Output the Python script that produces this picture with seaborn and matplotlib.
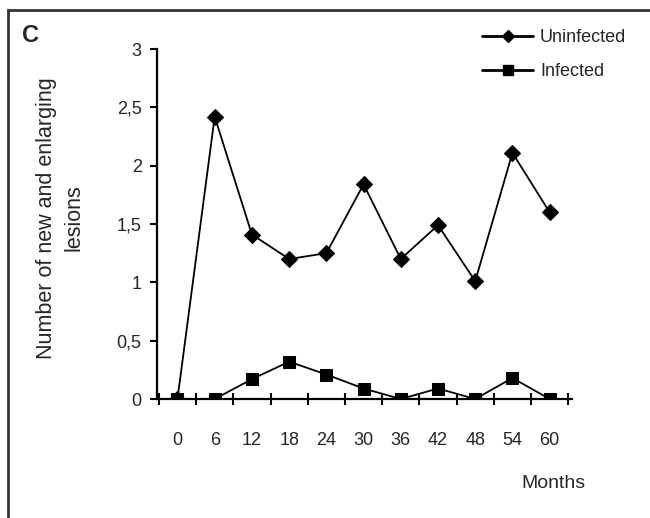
import matplotlib
matplotlib.use("Agg")
import matplotlib.pyplot as plt
import seaborn as sns
import pandas as pd
from matplotlib.patches import Rectangle
from matplotlib.lines import Line2D

months = ["0", "6", "12", "18", "24", "30", "36", "42", "48", "54", "60"]
uninfected = [0, 2.42, 1.41, 1.20, 1.25, 1.84, 1.20, 1.49, 1.01, 2.11, 1.60]
infected = [0, 0, 0.17, 0.32, 0.21, 0.09, 0, 0.09, 0, 0.18, 0]
ytick_vals = [0, 0.5, 1, 1.5, 2, 2.5, 3]
ytick_labels = ["0", "0,5", "1", "1,5", "2", "2,5", "3"]

sns.set_style("white")
plt.rcParams["font.family"] = ["Liberation Sans", "DejaVu Sans"]

pos = list(range(len(months)))
df = pd.DataFrame({
    "pos": pos * 2,
    "value": uninfected + infected,
    "group": ["Uninfected"] * len(months) + ["Infected"] * len(months),
})

fig = plt.figure(figsize=(6.5, 5.18), dpi=100)
ax = fig.add_axes([157/650, 1 - 399/518, (572-157)/650, (399-49)/518])

sns.lineplot(data=df, x="pos", y="value", hue="group", style="group",
             markers={"Uninfected": "D", "Infected": "s"}, dashes=False,
             palette={"Uninfected": "black", "Infected": "black"},
             markersize=8.5, linewidth=1.3, markeredgecolor="black",
             ax=ax, legend=False)

ax.set_xlim(-0.55, 10.6)
ax.set_ylim(0, 3)
ax.set_xticks(pos)
ax.set_xticklabels(months, fontsize=13)
ax.set_xticks([p - 0.5 for p in pos] + [10.5], minor=True)
ax.tick_params(axis="x", which="major", length=0, pad=24, bottom=True)
ax.tick_params(axis="x", which="minor", length=9, width=1.5, direction="inout",
               color="black", bottom=True)
ax.set_yticks(ytick_vals)
ax.set_yticklabels(ytick_labels, fontsize=13)
ax.tick_params(axis="y", length=5, width=1.5, direction="out", color="black",
               left=True, pad=6)
ax.set_xlabel("")
ax.set_ylabel("")
for s in ["top", "right"]:
    ax.spines[s].set_visible(False)
for s in ["left", "bottom"]:
    ax.spines[s].set_color("black")
    ax.spines[s].set_linewidth(1.6)

fig.text(60/650, 1 - 218/518, "Number of new and enlarging\nlesions", rotation=90,
         ha="center", va="center", fontsize=15.5, linespacing=1.4)
fig.text(553/650, 1 - 483/518, "Months", ha="center", va="center", fontsize=14)
fig.text(22/650, 1 - 35/518, "C", ha="left", va="center", fontsize=17, fontweight="bold")

handles = [Line2D([], [], color="black", marker="D", markersize=6, linewidth=2),
           Line2D([], [], color="black", marker="s", markersize=7, linewidth=2)]
fig.legend(handles, ["Uninfected", "Infected"], loc="upper left",
           bbox_to_anchor=(466/650, 1 - 13/518), frameon=False, fontsize=13,
           handlelength=2.8, labelspacing=0.95, handletextpad=0.4)

fig.patches.append(Rectangle((8/650, -0.1), 1.2, (1 - 10/518) + 0.1,
                             transform=fig.transFigure, fill=False,
                             edgecolor="#333333", linewidth=2))

fig.savefig("out.png", dpi=100)
